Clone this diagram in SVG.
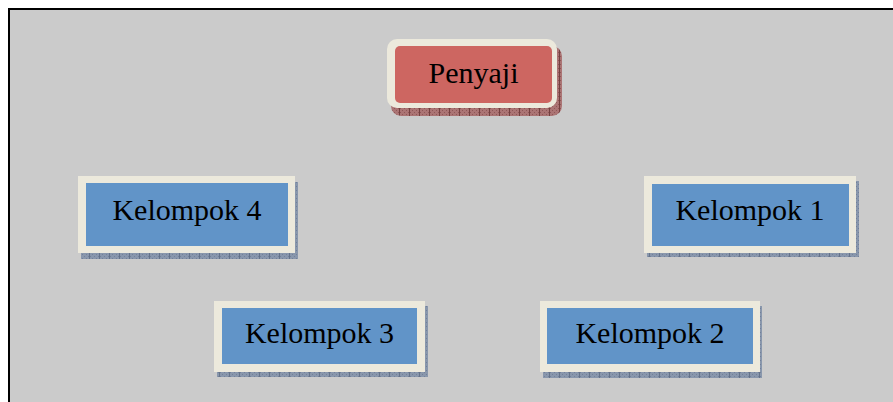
<svg xmlns="http://www.w3.org/2000/svg" width="893" height="402" viewBox="0 0 893 402">
  <defs>
    <pattern id="shBlue" width="10" height="4" patternUnits="userSpaceOnUse">
      <rect width="10" height="4" fill="#8997ac"/>
      <rect x="0" y="0" width="1" height="1" fill="#72809a"/>
      <rect x="2" y="2" width="1" height="1" fill="#72809a"/>
      <rect x="4" y="0" width="1" height="1" fill="#72809a"/>
      <rect x="6" y="2" width="1" height="1" fill="#72809a"/>
      <rect x="8" y="0" width="1" height="1" fill="#72809a"/>
      <rect x="9" y="0" width="1" height="4" fill="#65738a"/>
    </pattern>
    <pattern id="shRed" width="10" height="4" patternUnits="userSpaceOnUse">
      <rect width="10" height="4" fill="#ab7474"/>
      <rect x="0" y="0" width="1" height="1" fill="#8e5656"/>
      <rect x="2" y="2" width="1" height="1" fill="#8e5656"/>
      <rect x="4" y="0" width="1" height="1" fill="#8e5656"/>
      <rect x="6" y="2" width="1" height="1" fill="#8e5656"/>
      <rect x="8" y="0" width="1" height="1" fill="#8e5656"/>
      <rect x="9" y="0" width="1" height="4" fill="#744040"/>
    </pattern>
  </defs>
  <style>
    .frame { fill: #cbcbcb; }
    .outer { fill: #ece9dc; }
    .blue { fill: #6194c8; }
    .red { fill: #cd6661; }
    .shb { fill: url(#shBlue); }
    .shr { fill: url(#shRed); }
    text { font-family: "Liberation Serif", "Times New Roman", serif; font-size: 30px; fill: #000; text-anchor: middle; }
  </style>
  <rect x="0" y="0" width="893" height="402" fill="#ffffff"/>
  <rect class="frame" x="10" y="10" width="883" height="392"/>
  <rect x="8" y="8" width="885" height="2" fill="#000"/>
  <rect x="8" y="8" width="2" height="394" fill="#000"/>

  <g id="penyaji">
    <rect class="shr" x="391" y="46" width="171" height="70" rx="10"/>
    <rect class="outer" x="387" y="39" width="170" height="69" rx="10"/>
    <rect class="red" x="395" y="46" width="157" height="57" rx="5"/>
    <text x="473.5" y="83">Penyaji</text>
  </g>

  <g id="kelompok4">
    <rect class="shb" x="81" y="182" width="217" height="77"/>
    <rect class="outer" x="78" y="176" width="217" height="77"/>
    <rect class="blue" x="86" y="183" width="202" height="63"/>
    <text x="187" y="220">Kelompok 4</text>
  </g>

  <g id="kelompok1">
    <rect class="shb" x="647" y="181" width="212" height="76"/>
    <rect class="outer" x="644" y="176" width="212" height="77"/>
    <rect class="blue" x="652" y="184" width="197" height="62"/>
    <text x="750" y="220">Kelompok 1</text>
  </g>

  <g id="kelompok3">
    <rect class="shb" x="217" y="306" width="211" height="71"/>
    <rect class="outer" x="214" y="301" width="211" height="71"/>
    <rect class="blue" x="222" y="308" width="195" height="56"/>
    <text x="319.5" y="343">Kelompok 3</text>
  </g>

  <g id="kelompok2">
    <rect class="shb" x="543" y="306" width="219" height="72"/>
    <rect class="outer" x="540" y="301" width="220" height="71"/>
    <rect class="blue" x="547" y="308" width="206" height="56"/>
    <text x="650" y="343">Kelompok 2</text>
  </g>

  <g id="connectors"></g>
</svg>
